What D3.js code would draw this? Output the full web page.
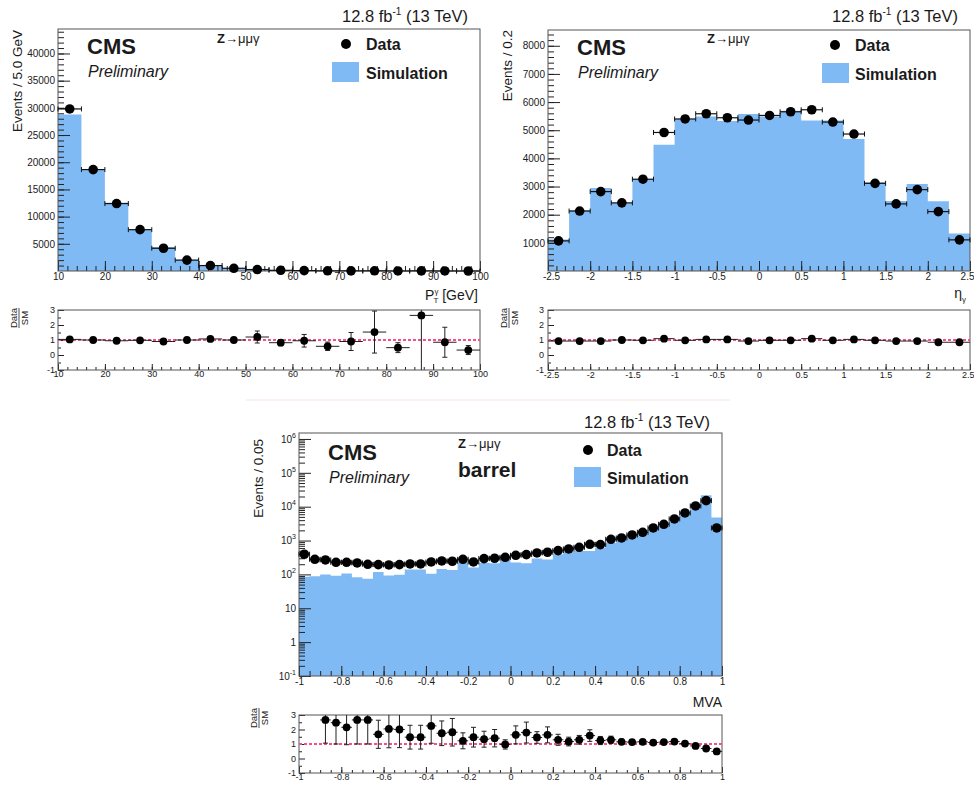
<!DOCTYPE html>
<html><head><meta charset="utf-8">
<script src="https://cdn.jsdelivr.net/npm/d3@7"></script>
<style>
body{margin:0;background:#fff}
svg{display:block}
text{font-family:"Liberation Sans",Arial,Helvetica,sans-serif;fill:#1a1a1a}
</style>
</head><body>
<svg id="c" width="974" height="787"></svg>
<script>
// ---------------- DATA ----------------
// Panel 1: photon pT (bins 10-100 GeV, width 5)
const ptEdges = [10,15,20,25,30,35,40,45,50,55,60,65,70,75,80,85,90,95,100];
const ptSim   = [28800,18700,12550,7550,4400,2070,960,480,250,150,80,55,35,22,16,10,7,6];
const ptData  = [29800,18650,12400,7600,4180,2000,1000,500,270,125,78,33,32,33,8,26,6,2];
const ptRatio = [1.04,1.0,0.95,0.98,0.9,1.0,1.07,1.0,1.2,0.82,0.95,0.58,0.9,1.53,0.49,2.64,0.85,0.33];
const ptRatioErr = [0.05,0.05,0.06,0.06,0.07,0.08,0.12,0.15,0.4,0.2,0.42,0.28,0.6,1.4,0.33,3.7,1.0,0.3];
const ptYTicks = [5000,10000,15000,20000,25000,30000,35000,40000];
const ptXTicks = [10,20,30,40,50,60,70,80,90,100];

// Panel 2: photon eta (bins -2.5..2.5, width 0.25)
const etaEdges = [-2.5,-2.25,-2,-1.75,-1.5,-1.25,-1,-0.75,-0.5,-0.25,0,0.25,0.5,0.75,1,1.25,1.5,1.75,2,2.25,2.5];
const etaSim   = [1117,2156,2950,2418,3270,4486,5397,5490,5326,5574,5490,5691,5348,5348,4688,3149,2489,3092,2475,1330];
const etaData  = [1070,2130,2820,2420,3260,4920,5400,5585,5443,5362,5525,5656,5727,5290,4865,3114,2383,2890,2110,1106];
const etaRatio = [0.93,0.93,0.93,1.0,0.98,1.09,0.98,1.04,1.04,0.93,0.98,0.98,1.09,0.98,1.04,0.98,0.93,0.93,0.85,0.85];
const etaRatioErr = [0.04,0.03,0.03,0.03,0.03,0.03,0.03,0.03,0.03,0.03,0.03,0.03,0.03,0.03,0.03,0.03,0.03,0.03,0.03,0.04];
const etaYTicks = [1000,2000,3000,4000,5000,6000,7000,8000];
const etaXTicks = [-2.5,-2,-1.5,-1,-0.5,0,0.5,1,1.5,2,2.5];

// Panel 3: photon MVA, barrel (bins -1..1, width 0.05)
const mvaEdges = [-1,-0.95,-0.9,-0.85,-0.8,-0.75,-0.7,-0.65,-0.6,-0.55,-0.5,-0.45,-0.4,-0.35,-0.3,-0.25,-0.2,-0.15,-0.1,-0.05,0,
  0.05,0.1,0.15,0.2,0.25,0.3,0.35,0.4,0.45,0.5,0.55,0.6,0.65,0.7,0.75,0.8,0.85,0.9,0.95,1];
const mvaSim  = [86,88,100,92,106,82,75,117,93,98,139,139,104,144,135,230,159,220,214,330,
  225,215,297,277,391,483,491,491,611,845,1037,1295,1525,2141,2673,3714,6345,12070,21880,4806];
const mvaData = [394,280,267,228,228,218,199,195,190,195,204,204,233,250,245,280,233,293,300,320,
  367,385,431,451,505,565,633,776,758,1090,1193,1463,1754,2355,3020,4345,6535,10500,15100,2355];
const mvaRatio = [null,null,2.66,2.47,2.15,2.66,2.66,1.67,2.04,2.0,1.47,1.47,2.25,1.74,1.81,1.22,1.47,1.33,1.4,0.97,
  1.63,1.79,1.45,1.63,1.29,1.17,1.29,1.58,1.24,1.29,1.15,1.13,1.15,1.1,1.13,1.17,1.03,0.87,0.69,0.49];
const mvaRatioErr = [0,0,1.6,1.47,1.2,1.66,1.66,0.97,1.3,1.25,0.82,0.82,1.2,0.85,0.95,0.55,0.68,0.55,0.6,0.32,
  0.62,0.72,0.4,0.55,0.38,0.3,0.3,0.4,0.28,0.25,0.18,0.15,0.12,0.1,0.08,0.07,0.06,0.05,0.04,0.05];
const mvaYTicks = [0.1,1,10,100,1000,10000,100000,1000000];
const mvaXTicks = [-1,-0.8,-0.6,-0.4,-0.2,0,0.2,0.4,0.6,0.8,1];

const ratioYTicks = [-1,0,1,2,3];
const ratioYMinor = [-0.5,0.5,1.5,2.5];

// ---------------- DRAWING ----------------
const svg = d3.select("#c");
const SIM = "#80baf5";
const FRAME = "#555";
let clipId = 0;

function minorRange(a, b, step) {
  const out = []; const n = Math.round((b - a) / step);
  for (let i = 0; i <= n; i++) out.push(+(a + i * step).toFixed(6));
  return out;
}
const fmt = d => String(d);

function axes(g, x, y, L, R, T, B, o) {
  const ly = g.append("g").attr("transform", `translate(${L},0)`)
    .call(d3.axisLeft(y).tickValues(o.yMajor).tickSize(-o.yMajLen).tickPadding(o.yPad).tickFormat(o.yFmt || fmt));
  ly.select(".domain").remove();
  ly.selectAll("line").attr("stroke", "#222");
  ly.selectAll("text").attr("font-size", o.fs).attr("fill", "#222")
    .style("font-family", '"Liberation Sans",Arial,sans-serif');
  if (o.ySup) ly.selectAll("text").each(o.ySup);
  const lym = g.append("g").attr("transform", `translate(${L},0)`)
    .call(d3.axisLeft(y).tickValues(o.yMinor).tickSize(-o.yMinLen).tickFormat(""));
  lym.select(".domain").remove();
  lym.selectAll("line").attr("stroke", "#222");
  const bx = g.append("g").attr("transform", `translate(0,${B})`)
    .call(d3.axisBottom(x).tickValues(o.xMajor).tickSize(-o.xMajLen).tickPadding(o.xPad).tickFormat(fmt));
  bx.select(".domain").remove();
  bx.selectAll("line").attr("stroke", "#222");
  bx.selectAll("text").attr("font-size", o.fs).attr("fill", "#222")
    .style("font-family", '"Liberation Sans",Arial,sans-serif');
  if (o.lastEnd) {
    const n = o.xMajor.length;
    bx.selectAll("text").filter((d, i) => i === n - 1).attr("text-anchor", "end").attr("dx", 4);
    bx.selectAll("text").filter((d, i) => i === 0).attr("dx", 3);
  }
  const bxm = g.append("g").attr("transform", `translate(0,${B})`)
    .call(d3.axisBottom(x).tickValues(o.xMinor).tickSize(-o.xMinLen).tickFormat(""));
  bxm.select(".domain").remove();
  bxm.selectAll("line").attr("stroke", "#222");
  g.append("rect").attr("x", L).attr("y", T).attr("width", R - L).attr("height", B - T)
    .attr("fill", "none").attr("stroke", FRAME).attr("stroke-width", 1);
}

function mainPanel(o) {
  const {L, R, T, B, edges, sim, data, x, y} = o;
  const g = svg.append("g");
  const pts = sim.map((v, i) => ({e: edges[i], v}));
  pts.push({e: edges[edges.length - 1], v: sim[sim.length - 1]});
  const area = d3.area().curve(d3.curveStepAfter)
    .x(d => x(d.e)).y0(B).y1(d => y(d.v));
  g.append("path").datum(pts).attr("d", area).attr("fill", SIM);
  axes(g, x, y, L, R, T, B, o);
  const dg = g.append("g");
  const cen = data.map((v, i) => ({lo: edges[i], hi: edges[i + 1], v}));
  dg.selectAll("line.h").data(cen).join("line")
    .attr("x1", d => x(d.lo)).attr("x2", d => x(d.hi))
    .attr("y1", d => y(d.v)).attr("y2", d => y(d.v))
    .attr("stroke", "#111").attr("stroke-width", 1.2);
  dg.selectAll("line.c1").data(cen).join("line")
    .attr("x1", d => x(d.lo)).attr("x2", d => x(d.lo))
    .attr("y1", d => y(d.v) - 2.5).attr("y2", d => y(d.v) + 2.5)
    .attr("stroke", "#111").attr("stroke-width", 1);
  dg.selectAll("line.c2").data(cen).join("line")
    .attr("x1", d => x(d.hi)).attr("x2", d => x(d.hi))
    .attr("y1", d => y(d.v) - 2.5).attr("y2", d => y(d.v) + 2.5)
    .attr("stroke", "#111").attr("stroke-width", 1);
  dg.selectAll("circle").data(cen).join("circle")
    .attr("cx", d => x((d.lo + d.hi) / 2)).attr("cy", d => y(d.v)).attr("r", 4.8).attr("fill", "#000");
  return g;
}

function ratioPanel(o) {
  const {L, R, T, B, edges, ratio, err, x} = o;
  const y = d3.scaleLinear().domain([-1, 3]).range([B, T]);
  const g = svg.append("g");
  const cid = "clip" + (clipId++);
  g.append("clipPath").attr("id", cid).append("rect").attr("x", L).attr("y", T).attr("width", R - L).attr("height", B - T);
  axes(g, x, y, L, R, T, B, Object.assign({}, o, {yMajor: ratioYTicks, yMinor: ratioYMinor}));
  const pg = g.append("g").attr("clip-path", `url(#${cid})`);
  pg.append("line").attr("x1", L).attr("x2", R).attr("y1", y(1)).attr("y2", y(1))
    .attr("stroke", "#f5508e").attr("stroke-width", 2.2).attr("stroke-dasharray", "3,2");
  const pts = ratio.map((v, i) => ({lo: edges[i], hi: edges[i + 1], v, e: err[i]})).filter(d => d.v !== null);
  pg.selectAll("line.v").data(pts).join("line")
    .attr("x1", d => x((d.lo + d.hi) / 2)).attr("x2", d => x((d.lo + d.hi) / 2))
    .attr("y1", d => y(d.v - d.e)).attr("y2", d => y(d.v + d.e))
    .attr("stroke", "#222").attr("stroke-width", 1);
  pg.selectAll("line.cap1").data(pts).join("line")
    .attr("x1", d => x((d.lo + d.hi) / 2) - 2.5).attr("x2", d => x((d.lo + d.hi) / 2) + 2.5)
    .attr("y1", d => y(d.v - d.e)).attr("y2", d => y(d.v - d.e))
    .attr("stroke", "#222").attr("stroke-width", 1);
  pg.selectAll("line.cap2").data(pts).join("line")
    .attr("x1", d => x((d.lo + d.hi) / 2) - 2.5).attr("x2", d => x((d.lo + d.hi) / 2) + 2.5)
    .attr("y1", d => y(d.v + d.e)).attr("y2", d => y(d.v + d.e))
    .attr("stroke", "#222").attr("stroke-width", 1);
  pg.selectAll("line.h").data(pts).join("line")
    .attr("x1", d => x(d.lo)).attr("x2", d => x(d.hi))
    .attr("y1", d => y(d.v)).attr("y2", d => y(d.v))
    .attr("stroke", "#222").attr("stroke-width", 1);
  pg.selectAll("circle").data(pts).join("circle")
    .attr("cx", d => x((d.lo + d.hi) / 2)).attr("cy", d => y(d.v)).attr("r", 3.9).attr("fill", "#000");
  const lg = svg.append("g").attr("transform", `translate(${o.lblX},${o.lblY}) rotate(-90)`);
  lg.append("text").attr("x", 0).attr("y", -2).attr("text-anchor", "middle").attr("font-size", 9.5).text("Data");
  lg.append("line").attr("x1", -10).attr("x2", 10).attr("y1", 0).attr("y2", 0).attr("stroke", "#222").attr("stroke-width", 0.8);
  lg.append("text").attr("x", 0).attr("y", 9).attr("text-anchor", "middle").attr("font-size", 9.5).text("SM");
}

function lumi(xEnd, yb) {
  const t = svg.append("text").attr("x", xEnd).attr("y", yb).attr("text-anchor", "end").attr("font-size", 16.5);
  t.append("tspan").text("12.8 fb");
  t.append("tspan").attr("font-size", 10).attr("dy", -7).text("-1");
  t.append("tspan").attr("dy", 7).text(" (13 TeV)");
}
function labels(ox, oy) {
  svg.append("text").attr("x", ox).attr("y", oy).attr("font-size", 22).attr("font-weight", "bold").text("CMS");
  svg.append("text").attr("x", ox + 1).attr("y", oy + 23).attr("font-size", 16).attr("font-style", "italic").text("Preliminary");
}
function zlabel(x, y) {
  const t = svg.append("text").attr("x", x).attr("y", y).attr("font-size", 13);
  t.append("tspan").attr("font-weight", "bold").text("Z");
  t.append("tspan").text("\u2192\u03bc\u03bc\u03b3");
}
function legend(cx, cy, bx, by, tx) {
  svg.append("circle").attr("cx", cx).attr("cy", cy).attr("r", 5).attr("fill", "#000");
  svg.append("text").attr("x", tx).attr("y", cy + 6).attr("font-size", 16).attr("font-weight", "bold").text("Data");
  svg.append("rect").attr("x", bx).attr("y", by).attr("width", 27).attr("height", 20).attr("fill", SIM);
  svg.append("text").attr("x", tx).attr("y", by + 17).attr("font-size", 16).attr("font-weight", "bold").text("Simulation");
}
function ytitle(x, y, txt) {
  svg.append("text").attr("transform", `translate(${x},${y}) rotate(-90)`).attr("text-anchor", "end")
    .attr("font-size", 13.5).attr("fill", "#222").text(txt);
}

// ----- Panel 1 -----
{
  const L = 58, R = 480, T = 29, B = 271;
  const x = d3.scaleLinear().domain([10, 100]).range([L, R]);
  const y = d3.scaleLinear().domain([0, 44500]).range([B, T]);
  mainPanel({L, R, T, B, x, y, edges: ptEdges, sim: ptSim, data: ptData,
    yMajor: ptYTicks, yMinor: minorRange(1000, 44000, 1000), yMajLen: 12, yMinLen: 6, yPad: 3,
    xMajor: ptXTicks, xMinor: minorRange(12, 98, 2), xMajLen: 10, xMinLen: 5, xPad: 2, fs: 10});
  ratioPanel({L, R, T: 310, B: 370, x, edges: ptEdges, ratio: ptRatio, err: ptRatioErr,
    yMajLen: 6, yMinLen: 3, yPad: 3, xMajor: ptXTicks, xMinor: minorRange(12, 98, 2), xMajLen: 6, xMinLen: 3, xPad: 1, fs: 9,
    lblX: 19, lblY: 318});
  lumi(468, 22);
  labels(87, 54);
  zlabel(217, 43);
  legend(346, 44, 332, 62, 366);
  ytitle(22, 30, "Events / 5.0 GeV");
  const t = svg.append("text").attr("x", 478).attr("y", 300).attr("text-anchor", "end").attr("font-size", 14);
  t.append("tspan").text("P");
  t.append("tspan").attr("font-size", 8).attr("dy", -6).text("\u03b3");
  t.append("tspan").attr("font-size", 8).attr("dx", -5).attr("dy", 9).text("T");
  t.append("tspan").attr("dy", -3).text(" [GeV]");
}

// ----- Panel 2 -----
{
  const L = 548, R = 970, T = 30, B = 271;
  const x = d3.scaleLinear().domain([-2.5, 2.5]).range([L, R]);
  const y = d3.scaleLinear().domain([0, 8560]).range([B, T]);
  mainPanel({L, R, T, B, x, y, edges: etaEdges, sim: etaSim, data: etaData,
    yMajor: etaYTicks, yMinor: minorRange(200, 8400, 200), yMajLen: 12, yMinLen: 6, yPad: 3,
    xMajor: etaXTicks, xMinor: minorRange(-2.4, 2.4, 0.1), xMajLen: 10, xMinLen: 5, xPad: 2, fs: 10, lastEnd: true});
  ratioPanel({L, R, T: 310, B: 370, x, edges: etaEdges, ratio: etaRatio, err: etaRatioErr,
    yMajLen: 6, yMinLen: 3, yPad: 4, xMajor: etaXTicks, xMinor: minorRange(-2.4, 2.4, 0.1), xMajLen: 6, xMinLen: 3, xPad: 2, fs: 9,
    lblX: 509, lblY: 318, lastEnd: true});
  lumi(958, 22);
  labels(577, 55);
  zlabel(707, 43);
  legend(835, 45, 822, 63, 855);
  ytitle(512, 30, "Events / 0.2");
  const t = svg.append("text").attr("x", 966).attr("y", 298).attr("text-anchor", "end").attr("font-size", 14);
  t.append("tspan").text("\u03b7");
  t.append("tspan").attr("font-size", 8).attr("dy", 4).text("\u03b3");
}

// separator
svg.append("line").attr("x1", 246).attr("x2", 730).attr("y1", 400).attr("y2", 400).attr("stroke", "#f7e2e2").attr("stroke-width", 1);

// ----- Panel 3 -----
{
  const L = 299, R = 722, T = 433, B = 676;
  const x = d3.scaleLinear().domain([-1, 1]).range([L, R]);
  const y = d3.scaleLog().domain([0.1, 1.5e6]).range([B, T]);
  const minors = [];
  for (let d = -1; d <= 5; d++) for (let m = 2; m <= 9; m++) minors.push(+(m * Math.pow(10, d)).toPrecision(3));
  const logFmt = d => (d === 1 ? "1" : "10");
  const sup = function(d) {
    if (d === 1 || d === 10) return;
    const e = Math.round(Math.log10(d));
    const s = d3.select(this);
    s.text(null);
    s.append("tspan").text("10");
    s.append("tspan").attr("font-size", 7).attr("dy", -5).text(String(e));
  };
  mainPanel({L, R, T, B, x, y, edges: mvaEdges, sim: mvaSim, data: mvaData,
    yMajor: mvaYTicks, yMinor: minors, yMajLen: 12, yMinLen: 6, yPad: 3, yFmt: logFmt, ySup: sup,
    xMajor: mvaXTicks, xMinor: minorRange(-0.95, 0.95, 0.05), xMajLen: 10, xMinLen: 5, xPad: 2, fs: 10});
  ratioPanel({L, R, T: 715, B: 773, x, edges: mvaEdges, ratio: mvaRatio, err: mvaRatioErr,
    yMajLen: 6, yMinLen: 3, yPad: 3, xMajor: mvaXTicks, xMinor: minorRange(-0.95, 0.95, 0.05), xMajLen: 6, xMinLen: 3, xPad: 1, fs: 9,
    lblX: 259, lblY: 718});
  lumi(710, 428);
  labels(328, 460);
  zlabel(458, 448);
  svg.append("text").attr("x", 458).attr("y", 477).attr("font-size", 21).attr("font-weight", "bold").text("barrel");
  legend(588, 450, 574, 467, 607);
  ytitle(263, 439, "Events / 0.05");
  svg.append("text").attr("x", 722).attr("y", 707).attr("text-anchor", "end").attr("font-size", 14).text("MVA");
}
</script>
</body></html>
